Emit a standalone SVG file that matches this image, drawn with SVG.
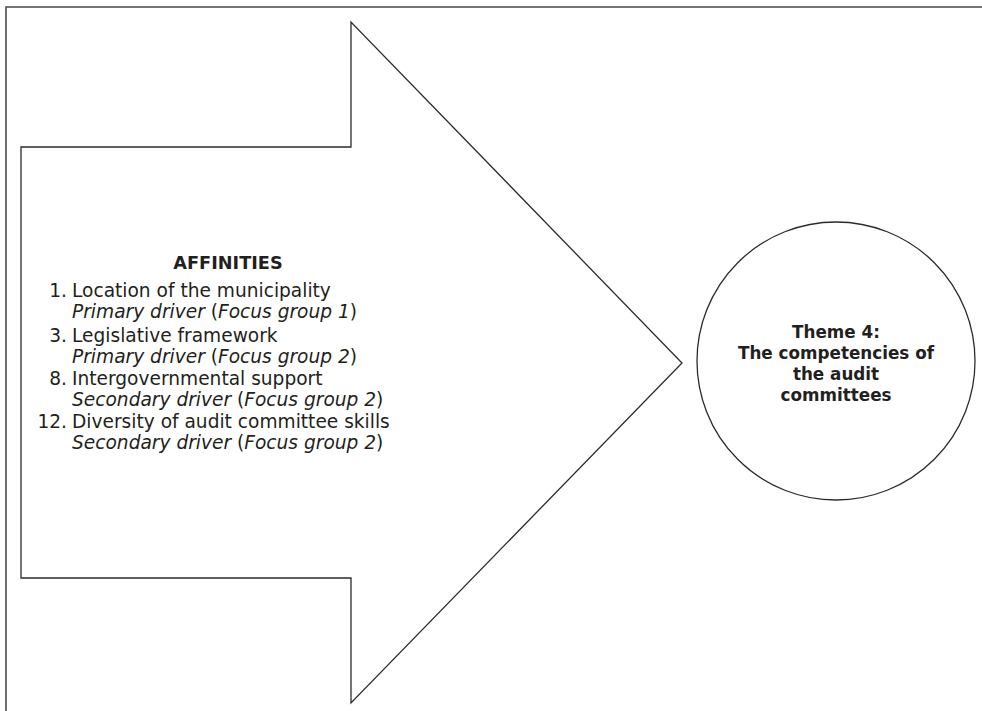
<svg xmlns="http://www.w3.org/2000/svg" width="982" height="711" viewBox="0 0 982 711">
  <style>
    .frame { fill: none; stroke: #4a4a4a; stroke-width: 1.6; }
    .shape { fill: #ffffff; stroke: #2b2b2b; stroke-width: 1.3; }
    .txt { font-family: "DejaVu Sans", "Liberation Sans", sans-serif; fill: #231f20; }
    .body { font-size: 18.6px; }
    .num { font-size: 18.6px; text-anchor: end; }
    .it { font-style: italic; }
    .head { font-size: 17.7px; font-weight: bold; text-anchor: middle; }
    .theme { font-size: 16.8px; font-weight: bold; text-anchor: middle; }
  </style>
  <rect width="982" height="711" fill="#ffffff"/>

  <!-- outer page rule: top and left edges only -->
  <path class="frame" d="M6,711 V7 H982"/>

  <!-- block arrow holding the list of affinities -->
  <g id="affinities">
    <polygon class="shape" points="21,147 351,147 351,22 682,363 351,703 351,578 21,578"/>
    <text class="txt head" x="228" y="269">AFFINITIES</text>

    <text class="txt num" x="67" y="297">1.</text>
    <text class="txt body" x="72" y="297">Location of the municipality</text>
    <text class="txt body" x="72" y="318"><tspan class="it">Primary driver</tspan> (<tspan class="it">Focus group 1</tspan>)</text>

    <text class="txt num" x="67" y="342">3.</text>
    <text class="txt body" x="72" y="342">Legislative framework</text>
    <text class="txt body" x="72" y="363"><tspan class="it">Primary driver</tspan> (<tspan class="it">Focus group 2</tspan>)</text>

    <text class="txt num" x="67" y="385">8.</text>
    <text class="txt body" x="72" y="385">Intergovernmental support</text>
    <text class="txt body" x="72" y="406"><tspan class="it">Secondary driver</tspan> (<tspan class="it">Focus group 2</tspan>)</text>

    <text class="txt num" x="67" y="428">12.</text>
    <text class="txt body" x="72" y="428">Diversity of audit committee skills</text>
    <text class="txt body" x="72" y="449"><tspan class="it">Secondary driver</tspan> (<tspan class="it">Focus group 2</tspan>)</text>
  </g>

  <!-- theme circle -->
  <g id="theme4">
    <circle class="shape" cx="836" cy="361" r="139"/>
    <text class="txt theme" x="836" y="338">Theme 4:</text>
    <text class="txt theme" x="836" y="359">The competencies of</text>
    <text class="txt theme" x="836" y="380">the audit</text>
    <text class="txt theme" x="836" y="401">committees</text>
  </g>

  <g id="connectors"/>
</svg>
